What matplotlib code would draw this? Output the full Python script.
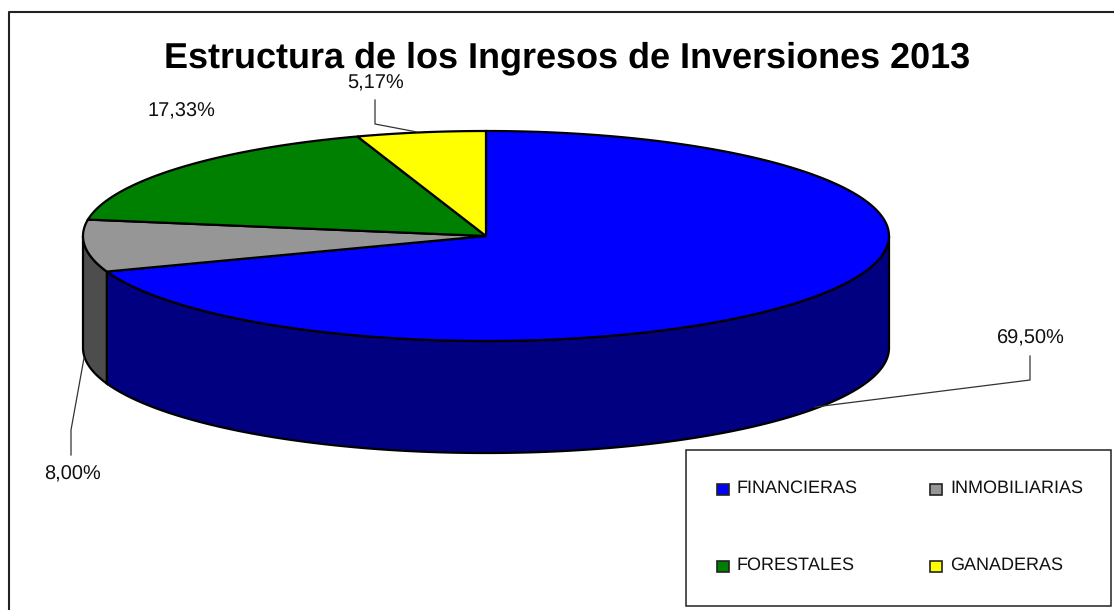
import numpy as np
import matplotlib
matplotlib.use("Agg")
from matplotlib import pyplot as plt
from matplotlib.patches import Polygon, Rectangle

plt.rcParams['font.family'] = ['Liberation Sans', 'DejaVu Sans']
plt.rcParams['text.hinting'] = 'no_hinting'
plt.rcParams['text.hinting_factor'] = 1

##### data
categories = ["FINANCIERAS", "INMOBILIARIAS", "FORESTALES", "GANADERAS"]
values = [69.50, 8.00, 17.33, 5.17]
labels = ["69,50%", "8,00%", "17,33%", "5,17%"]
top_colors = ["#0000FF", "#969696", "#008000", "#FFFF00"]
side_colors = ["#000080", "#4D4D4D", "#004000", "#808000"]

# pie geometry in pixels
cx, cy = 486, 236
rx, ry = 403, 105
depth = 112


def rim(a):
    # a is clockwise from 12 o'clock, degrees
    t = np.radians(a)
    return cx + rx * np.sin(t), cy - ry * np.cos(t)


fig = plt.figure(figsize=(11.14, 6.10), dpi=100)
ax = fig.add_axes([0, 0, 1, 1])
ax.set_xlim(0, 1114)
ax.set_ylim(610, 0)
ax.axis("off")

# outer frame, right and bottom sides fall outside the picture
ax.plot([9, 9, 1114], [610, 12, 12], color="#222222", lw=1.5, zorder=1)

edges = np.concatenate([[0], np.cumsum(values)]) * 3.6

# side walls, only the front half of the rim shows
for i in range(len(values)):
    a0, a1 = max(edges[i], 90), min(edges[i + 1], 270)
    if a1 <= a0:
        continue
    a = np.linspace(a0, a1, 200)
    x, y = rim(a)
    pts = np.vstack([np.column_stack([x, y]), np.column_stack([x, y + depth])[::-1]])
    ax.add_patch(Polygon(pts, fc=side_colors[i], ec="black", lw=1.6, zorder=2))

# top face
for i in range(len(values)):
    a = np.linspace(edges[i], edges[i + 1], 200)
    x, y = rim(a)
    pts = np.vstack([[cx, cy], np.column_stack([x, y])])
    ax.add_patch(Polygon(pts, fc=top_colors[i], ec="black", lw=1.6, zorder=3))

ax.text(567.5, 58, "Estructura de los Ingresos de Inversiones 2013", fontsize=25.7,
        fontweight="bold", ha="center", va="center", color="black")

# data labels and leader lines
label_pos = [(1031, 338), (72, 474), (181, 111), (376, 83)]
leaders = [
    [(1030, 356), (1030, 380), (815, 407)],
    [(71, 455), (71, 430), (84, 358)],
    None,
    [(375, 100), (375, 124), (417, 132)],
]
for lab, pos, lead in zip(labels, label_pos, leaders):
    ax.text(pos[0], pos[1], lab, fontsize=14.5, ha="center", va="center", color="#111111")
    if lead is not None:
        xs, ys = zip(*lead)
        ax.plot(xs, ys, color="#333333", lw=0.9, zorder=4)

# legend box
ax.add_patch(Rectangle((686, 450), 425, 156, fc="white", ec="#222222", lw=1.1, zorder=5))
key_pos = [(717, 489), (930, 489), (717, 566), (930, 566)]
for name, col, pos in zip(categories, top_colors, key_pos):
    ax.add_patch(Rectangle((pos[0], pos[1] - 5.5), 12, 11, fc=col, ec="#222222", lw=1.2, zorder=6))
    ax.text(pos[0] + 20, pos[1] - 0.5, name, fontsize=13.25, ha="left", va="center", color="#111111", zorder=6)

fig.savefig("out.png", dpi=100)
